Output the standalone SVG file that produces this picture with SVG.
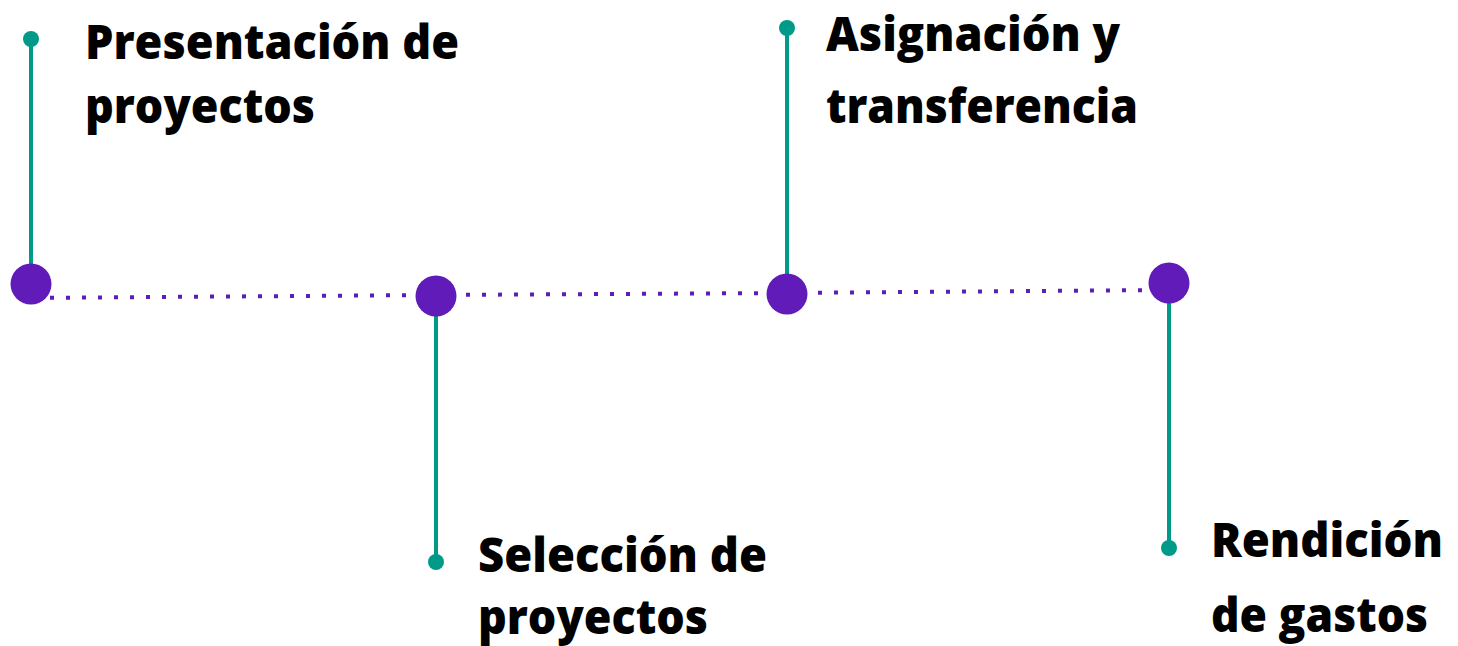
<svg xmlns="http://www.w3.org/2000/svg" width="1458" height="646" viewBox="0 0 1458 646">
<style>
.stem{stroke:#009a89;stroke-width:4;fill:none}
.tip{fill:#009a89}
.hub{fill:#611bb8}
.dots{stroke:#611bb8;stroke-width:4;stroke-dasharray:4 12;fill:none}
.lbl{font-family:"Open Sans","Noto Sans",sans-serif;font-weight:800;font-size:48px;fill:#000}
</style>
<rect width="1458" height="646" fill="#fff"/>
<g id="connectors">
<polyline class="dots" points="18,298 436,295 787,293 1160,290"/>
</g>
<g id="node-presentacion">
<line class="stem" x1="31" y1="39" x2="31" y2="270"/>
<circle class="tip" cx="31" cy="39" r="8"/>
<circle class="hub" cx="31" cy="284" r="20.5"/>
<text class="lbl" x="85" y="59" textLength="374" lengthAdjust="spacingAndGlyphs">Presentación de</text>
<text class="lbl" x="85" y="123" textLength="230" lengthAdjust="spacingAndGlyphs">proyectos</text>
</g>
<g id="node-seleccion">
<line class="stem" x1="436" y1="310" x2="436" y2="562"/>
<circle class="tip" cx="436" cy="562" r="8"/>
<circle class="hub" cx="436" cy="296" r="20.5"/>
<text class="lbl" x="478" y="572" textLength="289" lengthAdjust="spacingAndGlyphs">Selección de</text>
<text class="lbl" x="478" y="634" textLength="230" lengthAdjust="spacingAndGlyphs">proyectos</text>
</g>
<g id="node-asignacion">
<line class="stem" x1="787" y1="28" x2="787" y2="280"/>
<circle class="tip" cx="787" cy="28" r="8"/>
<circle class="hub" cx="787" cy="294" r="20.5"/>
<text class="lbl" x="826" y="51" textLength="294" lengthAdjust="spacingAndGlyphs">Asignación y</text>
<text class="lbl" x="826" y="123" textLength="312" lengthAdjust="spacingAndGlyphs">transferencia</text>
</g>
<g id="node-rendicion">
<line class="stem" x1="1169" y1="297" x2="1169" y2="548"/>
<circle class="tip" cx="1169" cy="548" r="8"/>
<circle class="hub" cx="1169" cy="283" r="20.5"/>
<text class="lbl" x="1211" y="557" textLength="232" lengthAdjust="spacingAndGlyphs">Rendición</text>
<text class="lbl" x="1211" y="632" textLength="217" lengthAdjust="spacingAndGlyphs">de gastos</text>
</g>
</svg>
